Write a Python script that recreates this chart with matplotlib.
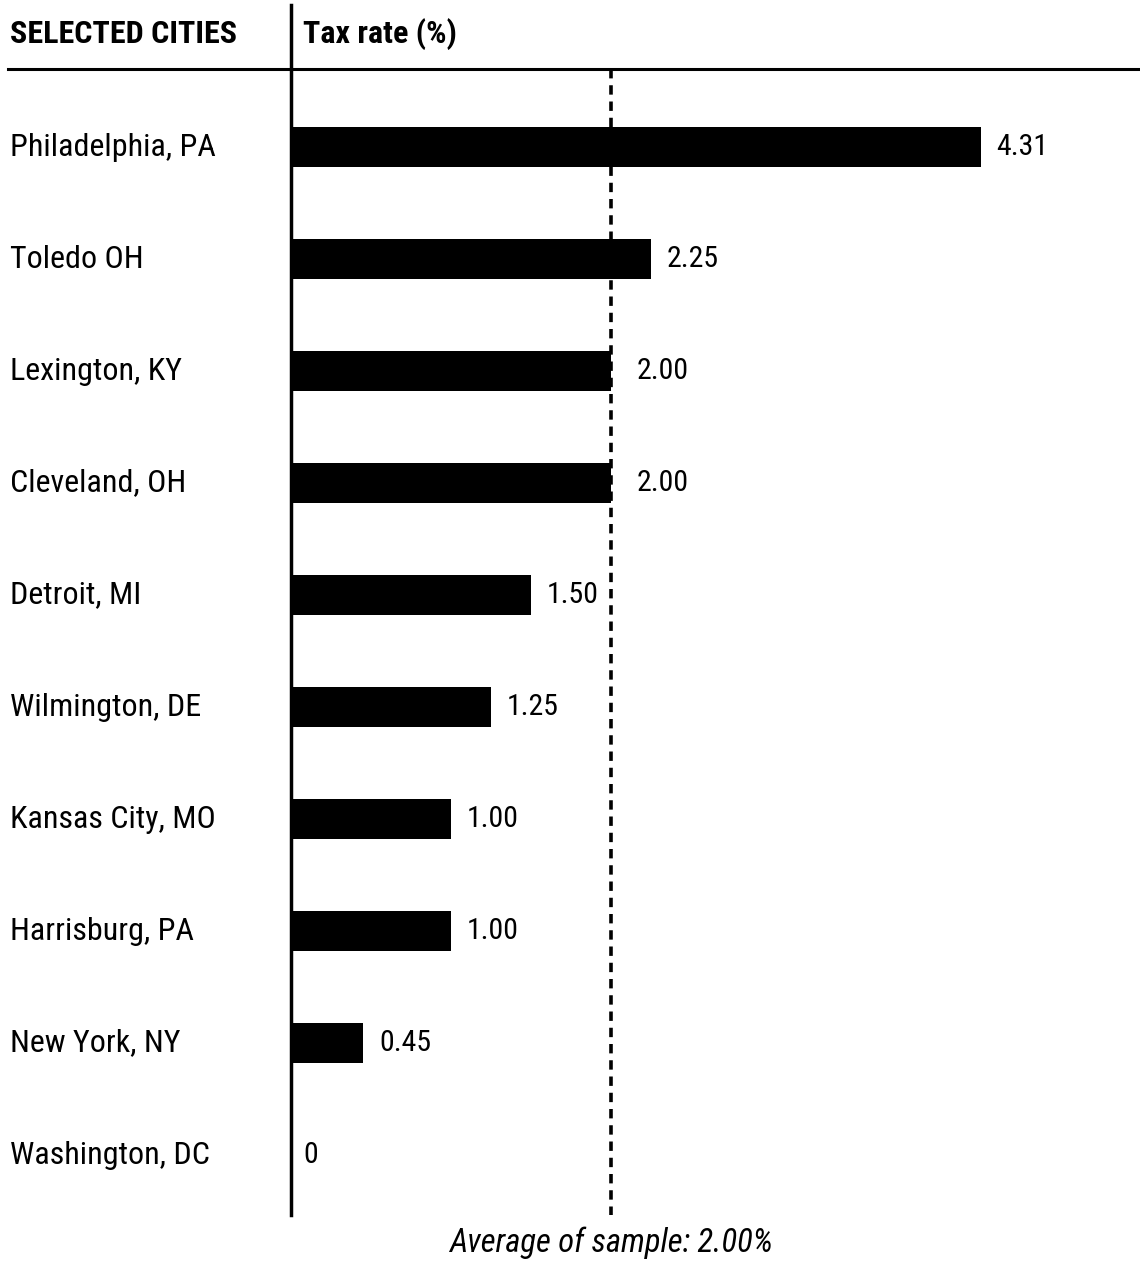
import matplotlib
matplotlib.use('Agg')
import matplotlib.pyplot as plt
import matplotlib.transforms as mtransforms

plt.rcParams['font.family'] = ['Liberation Sans Narrow', 'DejaVu Sans Condensed',
                               'Roboto Condensed', 'DejaVu Sans']
plt.rcParams['font.stretch'] = 'condensed'

cities = ["Philadelphia, PA", "Toledo OH", "Lexington, KY", "Cleveland, OH",
          "Detroit, MI", "Wilmington, DE", "Kansas City, MO", "Harrisburg, PA",
          "New York, NY", "Washington, DC"]
rates = [4.31, 2.25, 2.00, 2.00, 1.50, 1.25, 1.00, 1.00, 0.45, 0]
labels = ["4.31", "2.25", "2.00", "2.00", "1.50", "1.25", "1.00", "1.00", "0.45", "0"]
average = 2.00

W, H = 1140, 1262
fig = plt.figure(figsize=(W / 100, H / 100), dpi=100)
ax = fig.add_axes([291 / W, (H - 1215) / H, (W - 291) / W, (1215 - 5) / H])

ypos = list(range(len(cities)))
ax.barh(ypos, rates, height=0.36, color='black')
ax.set_xlim(0, 849 / 160)
ax.set_ylim((1215 - 147) / 112, (5 - 147) / 112)

# value labels
for y, v, lab in zip(ypos, rates, labels):
    off = 12 if v == 0 else (26 if v == average else 16)
    ax.annotate(lab, (v, y), xytext=(off, 0), textcoords='offset pixels',
                va='center', ha='left', fontsize=21.5)

# city names
trans = mtransforms.blended_transform_factory(fig.transFigure, ax.transData)
for y, c in zip(ypos, cities):
    ax.text(10 / W, y, c, transform=trans, va='center', ha='left', fontsize=23)

# header
head_y = (34 - 147) / 112
ax.text(10 / W, head_y, "SELECTED CITIES", transform=trans, va='center', ha='left',
        fontsize=23, fontweight='bold')
ax.text(303 / W, head_y, "Tax rate (%)", transform=trans, va='center', ha='left',
        fontsize=23, fontweight='bold')
ax.axhline((69 - 147) / 112, xmin=(8 - 291) / 849, xmax=1, color='black', lw=2.2,
           clip_on=False)

# average line
ax.vlines(average, (69 - 147) / 112, (1215 - 147) / 112, colors='black',
          linestyles=(0, (2.6, 1.9)), lw=2.6)
ax.text(average, (1243 - 147) / 112, "Average of sample: 2.00%", ha='center', va='center',
        fontsize=23.5, style='italic', clip_on=False)

for s in ['top', 'right', 'bottom']:
    ax.spines[s].set_visible(False)
ax.spines['left'].set_linewidth(2.5)
ax.set_xticks([])
ax.set_yticks([])

fig.savefig('out.png', dpi=100, facecolor='white')
